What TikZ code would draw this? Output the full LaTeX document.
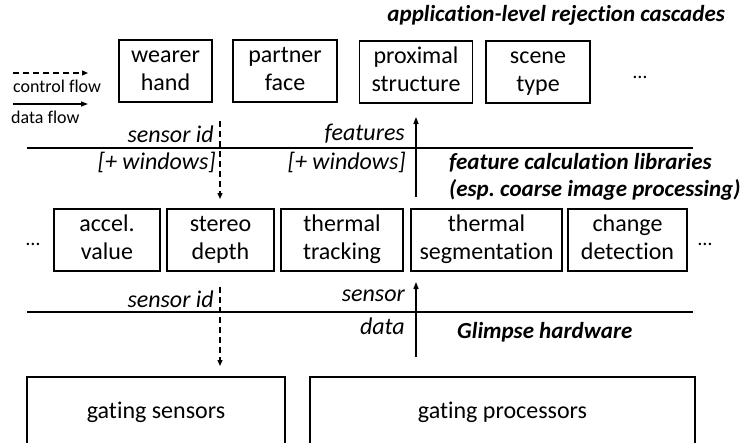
\documentclass[tikz,border=0pt]{standalone}
\usepackage{fontspec}
\setmainfont{Carlito}[Ligatures=NoCommon]
\usetikzlibrary{arrows.meta}
\frenchspacing
\begin{document}
\begin{tikzpicture}[x=1pt,y=-1pt,
  box/.style={draw,line width=1.4pt,inner sep=0pt,align=center,font=\fontsize{24}{28}\selectfont},
  lbl/.style={inner sep=0pt,font=\fontsize{24}{28}\selectfont\itshape},
  ttl/.style={inner sep=0pt,anchor=west,align=left,font=\fontsize{23}{27}\selectfont\bfseries\itshape},
  dots/.style={inner sep=0pt,font=\fontsize{20}{24}\selectfont},
  leg/.style={inner sep=0pt,anchor=west,font=\fontsize{18}{21}\selectfont},
  sep/.style={line width=1.4pt},
  ctrl/.style={line width=1.3pt,dash pattern=on 6pt off 4pt,-{Triangle[length=6pt,width=5pt]}},
  dat/.style={line width=1.3pt,-{Triangle[length=7pt,width=5pt]}}]
\useasboundingbox (0,0) rectangle (750,442);
\clip (0,0) rectangle (750,442);
% title
\node[ttl,anchor=east] (title) at (725,15) {application-level rejection cascades};
% legend
\coordinate (lc1) at (13,73); \coordinate (lc2) at (88,73);
\draw[ctrl] (lc1) -- (lc2);
\node[leg] (lctrl) at (13,86) {control flow};
\coordinate (ld1) at (13,104); \coordinate (ld2) at (88,104);
\draw[dat] (ld1) -- (ld2);
\node[leg] (ldata) at (11,117) {data flow};
% top boxes
\node[box,minimum width=93pt,minimum height=62pt] (wh) at (165.5,71) {\strut wearer\\\strut hand};
\node[box,minimum width=104pt,minimum height=62pt] (pf) at (285,71) {\strut partner\\\strut face};
\node[box,minimum width=113pt,minimum height=62pt] (ps) at (416,72) {\strut proximal\\\strut structure};
\node[box,minimum width=104pt,minimum height=62pt] (st) at (538,72) {\strut scene\\\strut type};
\node[dots] (d1) at (640,77) {…};
% separator 1
\coordinate (s1a) at (27,148); \coordinate (s1b) at (693,148);
\draw[sep] (s1a) -- (s1b);
\node[lbl,anchor=east] (l1) at (214,134) {sensor id};
\node[lbl,anchor=east] (l2) at (216,162) {[+ windows]};
\node[lbl,anchor=east] (l3) at (405,134) {features};
\node[lbl,anchor=east] (l4) at (406,162) {[+ windows]};
\node[ttl] (fcl) at (449,177) {feature calculation libraries\\(esp. coarse image processing)};
\coordinate (a1s) at (220,121); \coordinate (a1e) at (220,199);
\draw[ctrl] (a1s) -- (a1e);
\coordinate (b1s) at (416,197); \coordinate (b1e) at (416,117);
\draw[dat] (b1s) -- (b1e);
% middle boxes
\node[dots] (d2) at (33,244) {…};
\node[box,minimum width=106pt,minimum height=62pt] (av) at (107,240) {\strut accel.\\\strut value};
\node[box,minimum width=107pt,minimum height=62pt] (sd) at (220.5,240) {\strut stereo\\\strut depth};
\node[box,minimum width=122pt,minimum height=62pt] (tt) at (342,240) {\strut thermal\\\strut tracking};
\node[box,minimum width=151pt,minimum height=62pt] (ts) at (486.5,240) {\strut thermal\\\strut segmentation};
\node[box,minimum width=119pt,minimum height=62pt] (cd) at (627.5,240) {\strut change\\\strut detection};
\node[dots] (d3) at (705,244) {…};
% separator 2
\coordinate (s2a) at (27,312); \coordinate (s2b) at (693,312);
\draw[sep] (s2a) -- (s2b);
\node[lbl,anchor=east] (l5) at (214,299) {sensor id};
\node[lbl,anchor=east] (l6) at (405,296) {sensor};
\node[lbl,anchor=east] (l7) at (405,326) {data};
\node[ttl] (gh) at (457,332) {Glimpse hardware};
\coordinate (a2s) at (220,287); \coordinate (a2e) at (220,366);
\draw[ctrl] (a2s) -- (a2e);
\coordinate (b2s) at (416,357); \coordinate (b2e) at (416,282);
\draw[dat] (b2s) -- (b2e);
% bottom boxes
\node[box,minimum width=258pt,minimum height=80pt] (gs) at (156,417) {};
\node[inner sep=0pt,font=\fontsize{24}{28}\selectfont] (gst) at (156,412) {gating sensors};
\node[box,minimum width=385pt,minimum height=80pt] (gp) at (502.5,417) {};
\node[inner sep=0pt,font=\fontsize{24}{28}\selectfont] (gpt) at (502.5,412) {gating processors};
\end{tikzpicture}
\end{document}
